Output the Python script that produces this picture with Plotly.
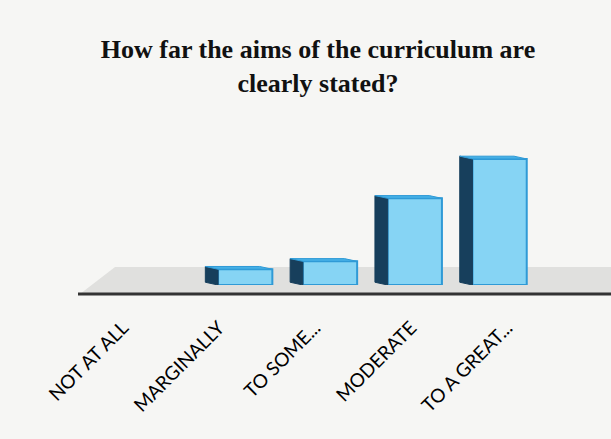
import plotly.graph_objects as go

categories = ["NOT AT ALL", "MARGINALLY", "TO SOME...", "MODERATE", "TO A GREAT..."]
values = [0, 2, 3, 11, 16]

x = list(range(len(categories)))
W = 0.64   # bar width (category units)
DX = 0.15  # depth offset in x
DY = 0.35  # depth offset in y

side_x, side_y, top_x, top_y = [], [], [], []
for xi, v in zip(x, values):
    if v <= 0:
        continue
    xl = xi - W / 2
    side_x += [xl, xl, xl - DX, xl - DX, xl, None]
    side_y += [0, v, v + DY, DY, 0, None]
    top_x += [xl, xl + W, xl + W - DX, xl - DX, xl, None]
    top_y += [v, v, v + DY, v + DY, v, None]

fig = go.Figure()
fig.add_trace(go.Bar(x=x, y=values, width=W,
                     marker=dict(color="#86d4f4",
                                 line=dict(color="#2f9ad6",
                                           width=[2 if v > 0 else 0 for v in values])),
                     hoverinfo="skip"))
fig.add_trace(go.Scatter(x=side_x, y=side_y, mode="lines", fill="toself",
                         fillcolor="#173f5c", line=dict(color="#173f5c", width=1),
                         hoverinfo="skip"))
fig.add_trace(go.Scatter(x=top_x, y=top_y, mode="lines", fill="toself",
                         fillcolor="#45b0e6", line=dict(color="#2f9ad6", width=1),
                         hoverinfo="skip"))
# label axis (category labels spread wider, as in the perspective original)
fig.add_trace(go.Scatter(x=x, y=[None] * len(x), xaxis="x2", mode="markers",
                         hoverinfo="skip", showlegend=False))

L, R, T, B = 118, 69, 155, 154
W_px = 611 - L - R
H_px = 439 - T - B

def px(p):
    return (p - L) / W_px

def py(p):
    return (439 - B - p) / H_px

# ticks of label axis at pixels 123 + 96*i
lab_r0 = -(123 - L) / 96
lab_r1 = lab_r0 + W_px / 96

floor_path = "M {} {} L {} {} L {} {} L {} {} Z".format(
    px(80), py(294), px(115), py(267), px(611), py(267), px(611), py(294))

fig.update_layout(
    width=611, height=439,
    margin=dict(l=L, r=R, t=T, b=B),
    paper_bgcolor="#f6f6f4", plot_bgcolor="rgba(0,0,0,0)",
    showlegend=False,
    title=dict(text="<b>How far the aims of the curriculum are<br>clearly stated?</b>",
               x=318 / 611, xanchor="center", xref="container",
               y=1 - 58 / 439, yanchor="top", yref="container",
               font=dict(family="Liberation Serif", size=26, color="#111111")),
    xaxis=dict(range=[-0.5, 4.5], showticklabels=False,
               showgrid=False, zeroline=False, showline=False, ticks=""),
    xaxis2=dict(range=[lab_r0, lab_r1], overlaying="x", side="bottom", anchor="y",
                tickvals=x, ticktext=categories, tickangle=-45,
                showgrid=False, zeroline=False, showline=False, ticks="",
                ticklabelstandoff=27,
                tickfont=dict(family="Lato", size=19, color="#000000")),
    yaxis=dict(range=[0, 16.5], visible=False, showgrid=False, zeroline=False),
    shapes=[
        dict(type="path", xref="paper", yref="paper", path=floor_path,
             fillcolor="#e0e0de", line=dict(width=0), layer="below"),
        dict(type="line", xref="paper", yref="paper", x0=px(78), x1=px(611),
             y0=py(294), y1=py(294), line=dict(color="#333333", width=3), layer="below"),
    ],
)

fig.write_html("out.html", config={"displayModeBar": False},
               post_script="document.body.style.margin='0';")
